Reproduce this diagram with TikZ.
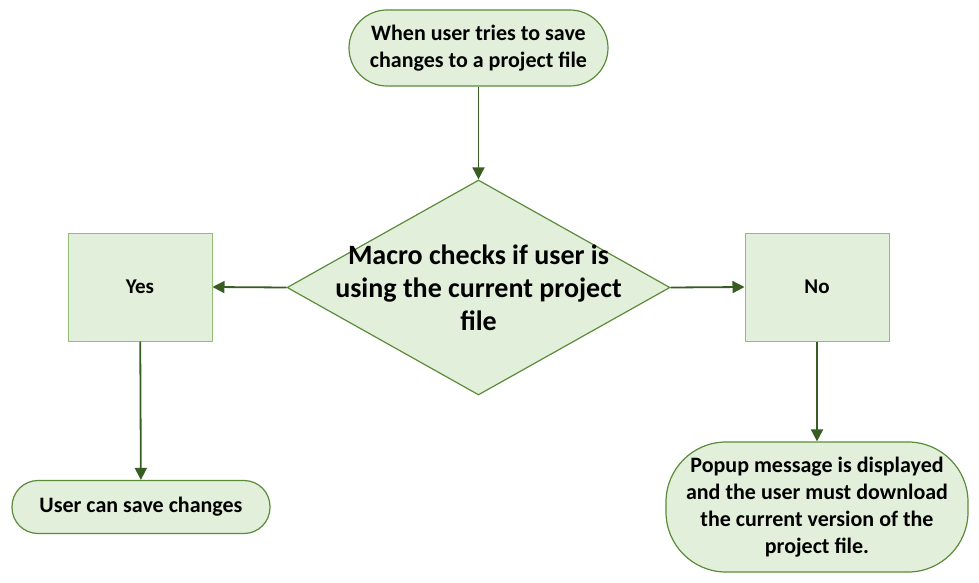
\documentclass[tikz,border=0pt]{standalone}
\usepackage{fontspec}
\setmainfont{Carlito}
\usetikzlibrary{shapes.geometric,arrows.meta}
\definecolor{fillg}{HTML}{E2EFDA}
\definecolor{edgeg}{HTML}{5B8C3A}
\definecolor{boxedge}{HTML}{94BC78}
\definecolor{arrg}{HTML}{385D22}
\tikzset{
  term/.style={draw=edgeg, line width=1.2pt, fill=fillg, inner sep=0pt, align=center, font=\bfseries},
  procbox/.style={draw=boxedge, line width=1pt, fill=fillg, inner sep=0pt, minimum width=144pt, minimum height=108pt, font=\fontsize{21}{25}\selectfont\bfseries},
  decis/.style={draw=edgeg, line width=1.2pt, fill=fillg, diamond, inner sep=0pt, minimum width=383pt, minimum height=215pt},
  conn/.style={draw=arrg, line width=1.8pt, -{Triangle[length=12pt,width=12pt]}}
}
\begin{document}
\begin{tikzpicture}[x=1pt,y=-1pt]
\useasboundingbox (0,0) rectangle (979,583);
\node[term, minimum width=259pt, minimum height=76pt, rounded corners=38pt,
  font=\fontsize{22}{26.5}\selectfont\bfseries] (start) at (478.5,48)
  {When user tries to save\\changes to a project file};
\node[decis] (dec) at (478.5,287.5) {};
\node[align=center, font=\fontsize{28}{33}\selectfont\bfseries] (dectext) at (478.5,288)
  {Macro checks if user is\\using the current project\\file};
\node[procbox] (yes) at (140,287) {Yes};
\node[procbox] (no) at (817,287) {No};
\node[term, minimum width=258pt, minimum height=53pt, rounded corners=26pt,
  font=\fontsize{22}{26}\selectfont\bfseries] (save) at (141,507) {User can save changes};
\node[term, minimum width=302pt, minimum height=130pt, rounded corners=60pt,
  font=\fontsize{22}{27}\selectfont\bfseries] (popup) at (817,507)
  {Popup message is displayed\\and the user must download\\the current version of the\\project file.};
\draw[conn] (start) -- (dec);
\draw[conn] (dec.west) -- (yes.east);
\draw[conn] (dec.east) -- (no.west);
\draw[conn] (yes) -- (save);
\draw[conn] (no) -- (popup);
\end{tikzpicture}
\end{document}
